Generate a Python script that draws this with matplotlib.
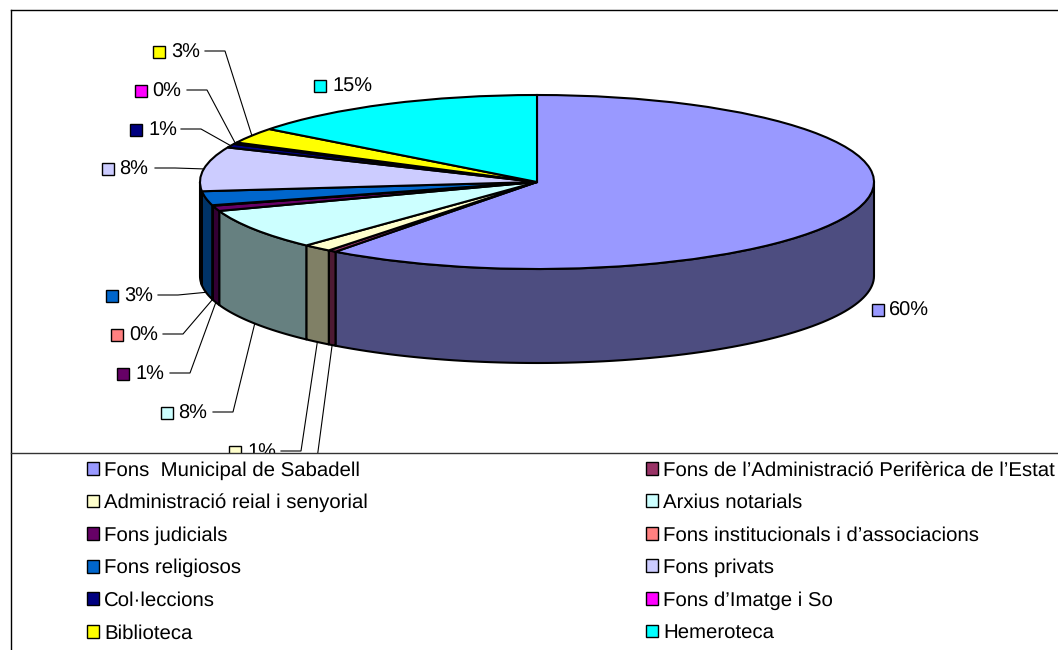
import numpy as np
import matplotlib
matplotlib.use("Agg")
import matplotlib.pyplot as plt
from matplotlib.patches import Rectangle
from matplotlib.colors import to_rgb

plt.rcParams['font.family'] = ['Liberation Sans', 'DejaVu Sans']
plt.rcParams['text.hinting'] = 'no_hinting'

# ---- data ----
categories = ["Fons  Municipal de Sabadell",
              "Fons de l\u2019Administració Perifèrica de l\u2019Estat",
              "Administració reial i senyorial",
              "Arxius notarials",
              "Fons judicials",
              "Fons institucionals i d\u2019associacions",
              "Fons religiosos",
              "Fons privats",
              "Col·leccions",
              "Fons d\u2019Imatge i So",
              "Biblioteca",
              "Hemeroteca"]
values = [60.2, 0.4, 1.4, 7.6, 1.0, 0.1, 2.6, 8.2, 0.7, 0.3, 2.9, 14.6]
colors = ["#9999FF", "#993366", "#FFFFCC", "#CCFFFF", "#660066", "#FF8080",
          "#0066CC", "#CCCCFF", "#000080", "#FF00FF", "#FFFF00", "#00FFFF"]

# ---- layout (pixels of the 1058x650 picture) ----
W, H = 1058, 650
CX, CY, RX, RY, DEPTH = 537, 182, 337, 87, 94
# swatch left x, swatch centre y, text x, elbow x (None = no leader line)
# the label of the second slice lies under the legend panel in the reference
label_layout = [(872, 310, 889, None), (None, 490, None, 313), (229, 452, 247, 301),
                (161, 413, 178, 233), (117, 374, 135, 190), (111, 335, 129, 183),
                (106, 296, 124, 178), (102, 169, 119, 175), (130, 130, 148, 201),
                (135, 91, 152, 207), (153, 52, 171, 225), (314, 86, 332, None)]
LABEL_PX = 20
LEGEND_PX = 20.4
PT = 72 / 100

fig = plt.figure(figsize=(W / 100, H / 100), dpi=100, facecolor="white")

# pie axes: unit circle squashed to the ellipse
ax = fig.add_axes([0, 0, 1, 1], zorder=1)
wedges, _ = ax.pie(values, colors=colors, startangle=90, counterclock=False, radius=1,
                   wedgeprops=dict(edgecolor="black", linewidth=1.5), normalize=True)
for w in wedges:
    w.set_zorder(5)
ax.set_aspect("auto")
ax.set_xlim(-CX / RX, (W - CX) / RX)
ax.set_ylim(-(H - CY) / RY, CY / RY)
ax.axis("off")
depth_u = DEPTH / RY

# side wall, from the same cumulative values
edges = np.cumsum([0] + values) / sum(values) * 360.0
for a0, a1, c in zip(edges[:-1], edges[1:], colors):
    lo, hi = max(a0, 90.0), min(a1, 270.0)
    if hi <= lo:
        continue
    t = np.radians(np.linspace(lo, hi, 80))
    x, y = np.sin(t), np.cos(t)
    px = np.r_[x, x[::-1]]
    py = np.r_[y, y[::-1] - depth_u]
    ax.fill(px, py, facecolor=tuple(v * 0.5 for v in to_rgb(c)), edgecolor="black",
            linewidth=1.5, zorder=3, joinstyle="round")

# overlay axes in picture pixels: labels, leaders, legend panel
ov = fig.add_axes([0, 0, 1, 1], zorder=2)
ov.set_xlim(0, W)
ov.set_ylim(H, 0)
ov.axis("off")
ov.patch.set_alpha(0)

for v, a0, a1, c, (sx, sy, tx, elbow) in zip(values, edges[:-1], edges[1:], colors, label_layout):
    if sx is not None:
        ov.add_patch(Rectangle((sx, sy - 6), 12, 12, facecolor=c, edgecolor="black", linewidth=1, zorder=2))
        ov.text(tx, sy + 1, f"{round(v)}%", fontsize=LABEL_PX * PT, va="center", ha="left",
                color="black", zorder=2)
    if elbow is not None:
        mid = np.radians((a0 + a1) / 2)
        ax_px = CX + RX * np.sin(mid)
        ay_px = CY - RY * np.cos(mid) + (DEPTH if np.cos(mid) < -0.05 else 0)
        ov.plot([elbow - 20, elbow, ax_px], [sy - 1, sy - 1, ay_px], color="black", lw=0.8, zorder=1,
                solid_joinstyle="miter")

# legend panel hides anything below it
ov.add_patch(Rectangle((11, 453), W - 11, H - 453, facecolor="white", edgecolor="none", zorder=4))
ov.plot([11, 11], [10, H], color="black", lw=1, zorder=6)
ov.plot([11, W], [10, 10], color="black", lw=1, zorder=6)
ov.plot([11, W], [453, 453], color="#333333", lw=1, zorder=6)

# legend is read row by row in the reference: two columns, odd then even entries
order = list(range(0, 12, 2)) + list(range(1, 12, 2))
leg = ov.legend([wedges[i] for i in order], [categories[i] for i in order], ncol=2, frameon=False,
                fontsize=LEGEND_PX * PT, loc="upper left", bbox_to_anchor=(87 / W, 1 - 461 / H),
                bbox_transform=fig.transFigure, borderaxespad=0, borderpad=0,
                handlelength=12 / LEGEND_PX, handleheight=12 / LEGEND_PX,
                handletextpad=5 / LEGEND_PX, labelspacing=0.68, columnspacing=13.63)
leg.set_zorder(7)
for h in leg.get_patches():
    h.set_linewidth(1)

fig.savefig("out.png", dpi=100)
